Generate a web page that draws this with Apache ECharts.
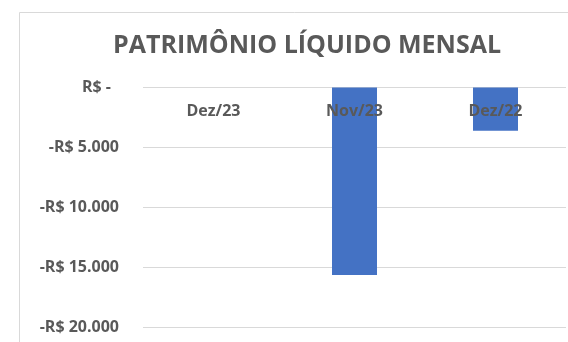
<!DOCTYPE html>
<html>
<head>
<meta charset="utf-8">
<script src="https://cdn.jsdelivr.net/npm/echarts@6/dist/echarts.min.js"></script>
<style>
  html, body { margin: 0; padding: 0; background: #fff; }
  #chart { width: 568px; height: 342px; }
</style>
</head>
<body>
<div id="chart"></div>
<script>
// Monthly net worth (patrimônio líquido), in R$
const categories = ['Dez/23', 'Nov/23', 'Dez/22'];
const values = [0, -15650, -3610];
const yTicks = [0, -5000, -10000, -15000, -20000];

const font = '"Open Sans", "Noto Sans", sans-serif';
const textColor = '#595959';

function formatBRL(v) {
  if (v === 0) return '{z|R$ -}';
  const abs = Math.abs(v).toLocaleString('pt-BR');
  return (v < 0 ? '-' : '') + 'R$ ' + abs;
}

const chart = echarts.init(document.getElementById('chart'));
chart.setOption({
  animation: false,
  backgroundColor: '#fff',
  graphic: [{
    type: 'rect',
    shape: { x: 19.5, y: 12.5, width: 580, height: 340 },
    style: { fill: 'none', stroke: '#d9d9d9', lineWidth: 1 },
    silent: true
  }],
  title: {
    text: 'PATRIMÔNIO LÍQUIDO MENSAL',
    left: 113,
    top: 33,
    padding: 0,
    textStyle: { fontFamily: font, fontSize: 25, fontWeight: 'bold', color: textColor }
  },
  grid: { left: 143, right: 2, top: 87.5, bottom: 15 },
  xAxis: {
    type: 'category',
    data: categories,
    position: 'top',
    z: 5,
    axisLine: { show: false },
    axisTick: { show: false },
    axisLabel: {
      inside: true,
      margin: 16,
      fontFamily: font, fontSize: 16, fontWeight: 'bold', color: textColor
    }
  },
  yAxis: {
    type: 'value',
    min: Math.min(...yTicks),
    max: Math.max(...yTicks),
    interval: 5000,
    axisLine: { show: false },
    axisTick: { show: false },
    splitLine: { lineStyle: { color: '#d9d9d9', width: 1 } },
    axisLabel: {
      margin: 24,
      fontFamily: font, fontSize: 16, fontWeight: 'bold', color: textColor,
      formatter: formatBRL,
      rich: { z: { fontFamily: font, fontSize: 16, fontWeight: 'bold', color: textColor, padding: [0, 8, 0, 0] } }
    }
  },
  series: [{
    type: 'bar',
    data: values,
    barWidth: 45,
    itemStyle: { color: '#4472C4' }
  }]
});
</script>
</body>
</html>
